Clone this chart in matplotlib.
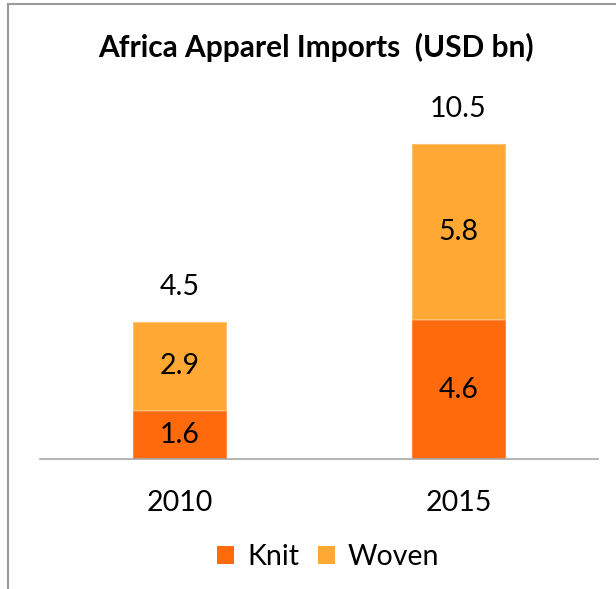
import matplotlib.pyplot as plt
from matplotlib.lines import Line2D
from matplotlib.patches import Patch

years = ['2010', '2015']
knit = [1.6, 4.6]
woven = [2.9, 5.8]
totals = ['4.5', '10.5']

knit_color = '#FF6A0D'
woven_color = '#FFA833'

plt.rcParams['font.family'] = ['Lato', 'DejaVu Sans']

fig = plt.figure(figsize=(6.16, 5.89), dpi=100)
ax = fig.add_axes([40 / 616, 1 - 459 / 589, 558 / 616, 0.63])

x = range(len(years))
gap = 0.04
ax.bar(x, knit, width=0.335, color=knit_color, edgecolor='#FF8A40', linewidth=0.8)
ax.bar(x, woven, width=0.335, bottom=[k + gap for k in knit], color=woven_color,
       edgecolor='#FFC070', linewidth=0.8)

for i in x:
    ax.text(i, knit[i] / 2, f'{knit[i]:.1f}', ha='center', va='center', fontsize=20.5, color='black')
    ax.text(i, knit[i] + gap + woven[i] / 2, f'{woven[i]:.1f}', ha='center', va='center',
            fontsize=20.5, color='black')
    ax.text(i, knit[i] + woven[i] + 1.2, totals[i], ha='center', va='center', fontsize=20.5, color='black')

ax.set_xlim(-0.5, 1.5)
ax.set_ylim(0, 12.3)
ax.set_yticks([])
ax.set_xticks(list(x))
ax.set_xticklabels(years, fontsize=20.5)
ax.tick_params(axis='x', length=0, pad=22)
for side in ['top', 'right', 'left']:
    ax.spines[side].set_visible(False)
ax.spines['bottom'].set_color('#A8A8A8')
ax.spines['bottom'].set_linewidth(1.2)

fig.text(316 / 616, 1 - 47 / 589, 'Africa Apparel Imports  (USD bn)', ha='center', va='center',
         fontsize=21.5, fontweight='bold')

handles = [Patch(facecolor=knit_color), Patch(facecolor=woven_color)]
fig.legend(handles, ['Knit', 'Woven'], loc='center', bbox_to_anchor=(328 / 616, 1 - 557 / 589),
           ncol=2, frameon=False, fontsize=20.5, handlelength=0.6, handleheight=0.6,
           handletextpad=0.45, columnspacing=0.65)

# outer frame: top and left edges
fig.add_artist(Line2D([8 / 616, 1], [1 - 4 / 589] * 2, color='#9A9A9A', linewidth=1.5))
fig.add_artist(Line2D([8 / 616] * 2, [0, 1 - 4 / 589], color='#9A9A9A', linewidth=1.5))

fig.savefig('out.png', dpi=100)
